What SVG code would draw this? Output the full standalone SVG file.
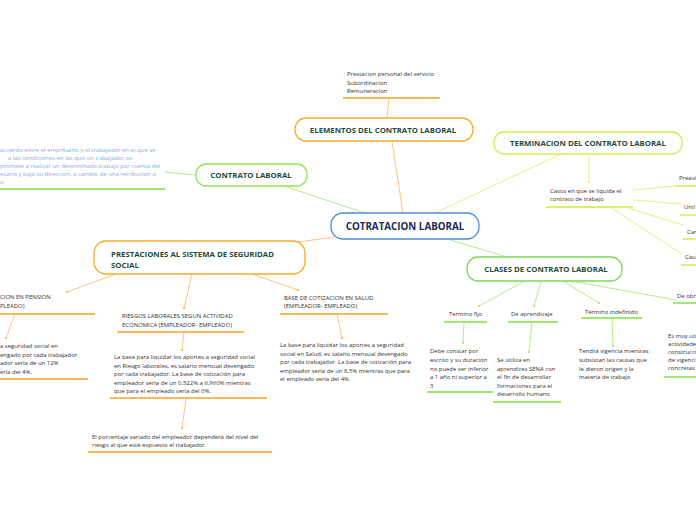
<svg xmlns="http://www.w3.org/2000/svg" width="696" height="520" viewBox="0 0 696 520">
<defs>
<style>
.t{font-family:"Open Sans","Noto Sans",sans-serif;font-weight:bold;font-size:7.8px;fill:#1e4b3c}
.c{font-family:"Open Sans","Noto Sans",sans-serif;font-weight:bold;font-size:9.8px;fill:#1b2b55}
.b{font-family:"Open Sans","Noto Sans",sans-serif;font-size:5.95px;fill:#333}
.bl{font-family:"Open Sans","Noto Sans",sans-serif;font-size:5.95px;fill:#8aaede}
.box{fill:#fff;stroke-width:1.3}
.or{stroke:#f7a928}
.gr{stroke:#90e352}
.yg{stroke:#d6eb4f}
.lo{stroke:#fcc680;stroke-width:1;fill:none}
.lg{stroke:#b3ee86;stroke-width:1;fill:none}
.ly{stroke:#e4f27c;stroke-width:1;fill:none}
.uo{stroke:#f7a21b;stroke-width:1.4}
.ug{stroke:#7fe040;stroke-width:1.4}
.uy{stroke:#d2e840;stroke-width:1.4}
</style>
<marker id="mo" markerWidth="4" markerHeight="4" refX="2" refY="2" markerUnits="userSpaceOnUse"><circle cx="2" cy="2" r="1.1" fill="#f7b040"/></marker>
<marker id="mg" markerWidth="4" markerHeight="4" refX="2" refY="2" markerUnits="userSpaceOnUse"><circle cx="2" cy="2" r="1.1" fill="#9ee86a"/></marker>
<marker id="my" markerWidth="4" markerHeight="4" refX="2" refY="2" markerUnits="userSpaceOnUse"><circle cx="2" cy="2" r="1.1" fill="#d8ec5a"/></marker>
</defs>
<rect width="696" height="520" fill="#fff"/>

<g id="connectors">
<line class="lo" x1="392" y1="141" x2="403" y2="213"/>
<line class="lo" x1="389" y1="98" x2="387" y2="118"/>
<line class="lg" x1="365" y1="213" x2="287" y2="187"/>
<line class="lg" x1="196" y1="175" x2="165" y2="172"/>
<line class="ly" x1="435" y1="213" x2="563" y2="153"/>
<line class="ly" x1="589" y1="153" x2="589" y2="182" marker-end="url(#my)"/>
<line class="ly" x1="633" y1="190" x2="675" y2="186"/>
<line class="ly" x1="633" y1="200" x2="682" y2="204"/>
<line class="ly" x1="628" y1="208" x2="683" y2="225"/>
<line class="ly" x1="610" y1="207" x2="682" y2="254"/>
<line class="lg" x1="447" y1="239" x2="507" y2="257"/>
<line class="lg" x1="523" y1="282" x2="479" y2="306" marker-end="url(#mg)"/>
<line class="lg" x1="541" y1="282" x2="534" y2="306" marker-end="url(#mg)"/>
<line class="lg" x1="563" y1="281" x2="599" y2="303" marker-end="url(#mg)"/>
<line class="lg" x1="566" y1="280" x2="676" y2="300"/>
<line class="lg" x1="464" y1="322" x2="463" y2="343" marker-end="url(#mg)"/>
<line class="lg" x1="532" y1="322" x2="529" y2="352" marker-end="url(#mg)"/>
<line class="lg" x1="612" y1="318" x2="613" y2="346" marker-end="url(#mg)"/>
<line class="lo" x1="334" y1="237" x2="298" y2="242"/>
<line class="lo" x1="116" y1="274" x2="67" y2="292" marker-end="url(#mo)"/>
<line class="lo" x1="192" y1="274" x2="184" y2="308" marker-end="url(#mo)"/>
<line class="lo" x1="252" y1="274" x2="298" y2="290" marker-end="url(#mo)"/>
<line class="lo" x1="15" y1="314" x2="6" y2="338" marker-end="url(#mo)"/>
<line class="lo" x1="184" y1="332" x2="182" y2="350" marker-end="url(#mo)"/>
<line class="lo" x1="186" y1="398" x2="182" y2="428" marker-end="url(#mo)"/>
<line class="lo" x1="337" y1="314" x2="342" y2="338" marker-end="url(#mo)"/>
</g>

<g id="central">
<rect class="box" x="331" y="213" width="148" height="26" rx="12" stroke="#4a90d9"/>
<text class="c" x="405" y="229.5" text-anchor="middle">COTRATACION LABORAL</text>
</g>

<g id="elementos">
<rect class="box or" x="295" y="118" width="178" height="23" rx="11"/>
<text class="t" x="383" y="132.6" text-anchor="middle">ELEMENTOS DEL CONTRATO LABORAL</text>
</g>
<g id="elementos-detalle">
<text class="b" x="347" y="76">Prestacion personal del servicio</text>
<text class="b" x="347" y="84.5">Subordinacion</text>
<text class="b" x="347" y="93">Remuneracion</text>
<line class="uo" x1="343" y1="98" x2="440" y2="98"/>
</g>

<g id="contrato">
<rect class="box gr" x="196" y="164" width="111" height="22" rx="10"/>
<text class="t" x="251" y="178" text-anchor="middle">CONTRATO LABORAL</text>
</g>
<g id="contrato-def">
<text class="bl" x="0" y="152">acuerdo entre el empresario y el trabajador en el que se</text>
<text class="bl" x="8" y="160">a las condiciones en las que un trabajador se</text>
<text class="bl" x="0" y="168">promete a realizar un determinado trabajo por cuenta del</text>
<text class="bl" x="0" y="176">esario y bajo su direccion, a cambio de una retribucion o</text>
<text class="bl" x="0" y="184">o</text>
<line class="ug" x1="0" y1="189" x2="165" y2="189"/>
</g>

<g id="terminacion">
<rect class="box yg" x="494" y="132" width="188" height="22" rx="10"/>
<text class="t" x="588" y="146" text-anchor="middle">TERMINACION DEL CONTRATO LABORAL</text>
</g>
<g id="casos">
<text class="b" x="550" y="192.5">Casos en que se liquida el</text>
<text class="b" x="550" y="200.5">contrato de trabajo</text>
<line class="uy" x1="546" y1="207" x2="633" y2="207"/>
</g>
<g id="preaviso">
<text class="b" x="679" y="180">Preavi</text>
<line class="uy" x1="675" y1="186" x2="696" y2="186"/>
</g>
<g id="unilateral">
<text class="b" x="684" y="209">Unil</text>
<line class="uy" x1="680" y1="215" x2="696" y2="215"/>
</g>
<g id="car">
<text class="b" x="687" y="234">Car</text>
<line class="uy" x1="683" y1="239" x2="696" y2="239"/>
</g>
<g id="cau">
<text class="b" x="685" y="259">Cau</text>
<line class="uy" x1="681" y1="265" x2="696" y2="265"/>
</g>

<g id="clases">
<rect class="box" x="467" y="257" width="155" height="24" rx="11" stroke="#7ed957"/>
<text class="t" x="546" y="272" text-anchor="middle">CLASES DE CONTRATO LABORAL</text>
</g>
<g id="termino-fijo">
<text class="b" x="449" y="316">Termino fijo</text>
<line class="ug" x1="444" y1="322" x2="487" y2="322"/>
</g>
<g id="termino-fijo-det">
<text class="b" x="430" y="353">Debe constar por</text>
<text class="b" x="430" y="362">escrito y su duración</text>
<text class="b" x="430" y="370.5">no puede ser inferior</text>
<text class="b" x="430" y="379">a 1 año ni superior a</text>
<text class="b" x="430" y="387.5">3</text>
<line class="ug" x1="427" y1="392" x2="493" y2="392"/>
</g>
<g id="aprendizaje">
<text class="b" x="511" y="316">De aprendizaje</text>
<line class="ug" x1="508" y1="322" x2="558" y2="322"/>
</g>
<g id="aprendizaje-det">
<text class="b" x="497" y="362">Se utiliza en</text>
<text class="b" x="497" y="370.5">aprendices SENA con</text>
<text class="b" x="497" y="379">el fin de desarrollar</text>
<text class="b" x="497" y="387.5">formaciones para el</text>
<text class="b" x="497" y="396">desarrollo humano</text>
<line class="ug" x1="493" y1="402" x2="561" y2="402"/>
</g>
<g id="indefinido">
<text class="b" x="585" y="314">Término indefinido</text>
<line class="ug" x1="581" y1="318" x2="642" y2="318"/>
</g>
<g id="indefinido-det">
<text class="b" x="579" y="353">Tendrá vigencia mientras</text>
<text class="b" x="579" y="362">subsistan las causas que</text>
<text class="b" x="579" y="370.5">le dieron origen y la</text>
<text class="b" x="579" y="379">materia de trabajo</text>
</g>
<g id="obra">
<text class="b" x="677" y="298">De obr</text>
<line class="ug" x1="673" y1="303" x2="696" y2="303"/>
</g>
<g id="obra-det">
<text class="b" x="668" y="338">Es muy uti</text>
<text class="b" x="668" y="346">actividade</text>
<text class="b" x="668" y="354">construcci</text>
<text class="b" x="668" y="362">de vigenci</text>
<text class="b" x="668" y="370">concretas</text>
<line class="ug" x1="664" y1="377" x2="696" y2="377"/>
</g>

<g id="prestaciones">
<rect class="box or" x="94" y="241" width="211" height="33" rx="12"/>
<text class="t" x="111" y="256.5">PRESTACIONES AL SISTEMA DE SEGURIDAD</text>
<text class="t" x="111" y="268">SOCIAL</text>
</g>
<g id="pension">
<text class="b" x="0" y="299">CION EN PENSION</text>
<text class="b" x="0" y="308">PLEADO)</text>
<line class="uo" x1="0" y1="314" x2="95" y2="314"/>
</g>
<g id="pension-det">
<text class="b" x="0" y="348">a seguridad social en</text>
<text class="b" x="0" y="356.5">engado por cada trabajador.</text>
<text class="b" x="0" y="365">ador sería de un 12%</text>
<text class="b" x="0" y="373.5">ería del 4%.</text>
<line class="uo" x1="0" y1="379" x2="88" y2="379"/>
</g>
<g id="riesgos">
<text class="b" x="122" y="318">RIESGOS  LABORALES SEGUN ACTIVIDAD</text>
<text class="b" x="122" y="326.5">ECONOMICA (EMPLEADOR- EMPLEADO)</text>
<line class="uo" x1="117" y1="332" x2="244" y2="332"/>
</g>
<g id="riesgos-det">
<text class="b" x="114" y="359">La base para liquidar los aportes a seguridad social</text>
<text class="b" x="114" y="367.5">en Riesgo laborales, es salario mensual devengado</text>
<text class="b" x="114" y="376">por cada trabajador. La base de cotización para</text>
<text class="b" x="114" y="384.5">empleador sería de un 0,522% a 6,960% mientras</text>
<text class="b" x="114" y="393">que para el empleado sería del 0%.</text>
<line class="uo" x1="110" y1="398" x2="267" y2="398"/>
</g>
<g id="riesgos-det2">
<text class="b" x="92" y="439">El porcentaje variado del empleador dependerá del nivel del</text>
<text class="b" x="92" y="447">riesgo al que esté expuesto el trabajador.</text>
<line class="uo" x1="88" y1="452" x2="272" y2="452"/>
</g>
<g id="salud">
<text class="b" x="284" y="300">BASE DE COTIZACION EN SALUD</text>
<text class="b" x="284" y="308">(EMPLEADOR- EMPLEADO)</text>
<line class="uo" x1="280" y1="314" x2="388" y2="314"/>
</g>
<g id="salud-det">
<text class="b" x="280" y="347">La base para liquidar los aportes a seguridad</text>
<text class="b" x="280" y="355.5">social en Salud, es salario mensual devengado</text>
<text class="b" x="280" y="364">por cada trabajador. La base de cotización para</text>
<text class="b" x="280" y="372.5">empleador sería de un 8,5% mientras que para</text>
<text class="b" x="280" y="381">el empleado sería del 4%.</text>
</g>
</svg>
